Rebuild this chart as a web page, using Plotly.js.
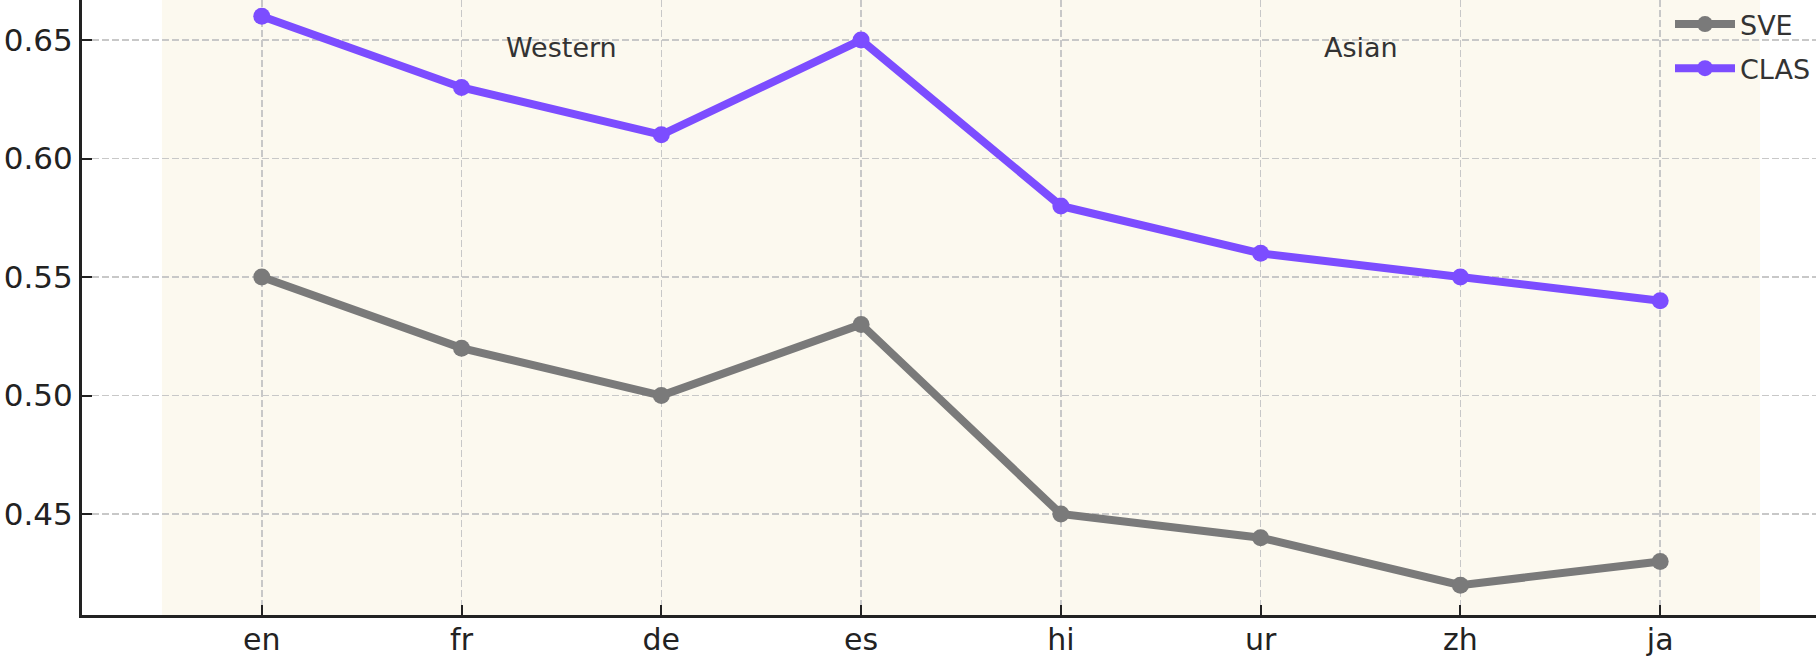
<!DOCTYPE html>
<html>
<head>
<meta charset="utf-8">
<script src="https://cdn.plot.ly/plotly-3.0.1.min.js"></script>
<style>
  html, body { margin: 0; padding: 0; background: #fff; }
  #chart { width: 1816px; height: 661px; }
</style>
</head>
<body>
<div id="chart"></div>
<script>
const languages = ['en', 'fr', 'de', 'es', 'hi', 'ur', 'zh', 'ja'];
const sveScores = [0.55, 0.52, 0.50, 0.53, 0.45, 0.44, 0.42, 0.43];
const clasScores = [0.66, 0.63, 0.61, 0.65, 0.58, 0.56, 0.55, 0.54];
const yTicks = [0.45, 0.50, 0.55, 0.60, 0.65];
const groupNames = ['Western', 'Asian'];
const groupSpans = [[-0.5, 3.5], [3.5, 7.5]];

const xIdx = languages.map((_, i) => i);

const traces = [
  {
    x: xIdx, y: sveScores, name: 'SVE', legendgroup: 'sve',
    type: 'scatter', mode: 'lines+markers',
    line: { color: '#7a7a7a', width: 8 },
    marker: { color: '#7a7a7a', size: 17 }
  },
  {
    x: xIdx, y: clasScores, name: 'CLAS', legendgroup: 'clas',
    type: 'scatter', mode: 'lines+markers',
    line: { color: '#7c4dff', width: 8 },
    marker: { color: '#7c4dff', size: 17 }
  }
];

// shaded region behind each language group
const shapes = groupSpans.map(span => ({
  type: 'rect', xref: 'x', yref: 'paper',
  x0: span[0], x1: span[1], y0: 0, y1: 1,
  fillcolor: '#fcf9ef', line: { width: 0 }, layer: 'below'
}));

const annotations = groupNames.map((name, i) => ({
  x: (groupSpans[i][0] + groupSpans[i][1]) / 2, y: 0.647,
  xref: 'x', yref: 'y', text: name, showarrow: false,
  font: { family: 'DejaVu Sans', size: 27, color: '#333333' }
}));

const layout = {
  width: 1816, height: 661,
  margin: { l: 82, r: 0, t: 0, b: 46 },
  paper_bgcolor: '#ffffff',
  plot_bgcolor: '#ffffff',
  font: { family: 'DejaVu Sans', color: '#222222' },
  showlegend: true,
  legend: {
    x: 1, y: 1, xanchor: 'right', yanchor: 'top',
    bgcolor: 'rgba(0,0,0,0)',
    font: { family: 'DejaVu Sans', size: 27, color: '#333333' },
    tracegroupgap: 6, itemwidth: 60
  },
  xaxis: {
    range: [-0.9, 7.78],
    tickmode: 'array', tickvals: xIdx, ticktext: languages,
    ticks: 'inside', ticklen: 10, tickwidth: 2, tickcolor: '#222',
    tickfont: { family: 'DejaVu Sans', size: 30, color: '#222' },
    ticklabelstandoff: -4,
    showline: true, linecolor: '#222', linewidth: 3,
    showgrid: true, gridcolor: '#c8c8c8', gridwidth: 1.5, griddash: '7px,3px',
    zeroline: false
  },
  yaxis: {
    range: [0.4074, 0.6669],
    tickmode: 'array', tickvals: yTicks, ticktext: yTicks.map(v => v.toFixed(2)),
    ticks: 'inside', ticklen: 10, tickwidth: 2, tickcolor: '#222',
    tickfont: { family: 'DejaVu Sans', size: 31, color: '#222' },
    showline: true, linecolor: '#222', linewidth: 3,
    showgrid: true, gridcolor: '#c8c8c8', gridwidth: 1.5, griddash: '7px,3px',
    zeroline: false
  },
  shapes: shapes,
  annotations: annotations
};

Plotly.newPlot('chart', traces, layout, { displayModeBar: false, staticPlot: true });
</script>
</body>
</html>
